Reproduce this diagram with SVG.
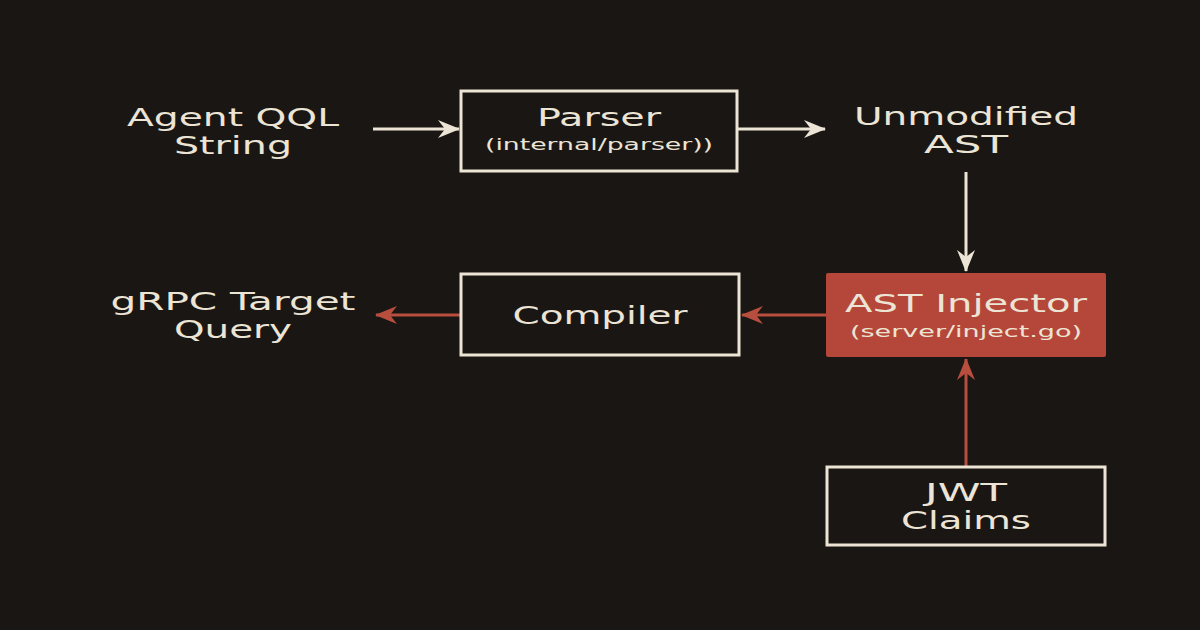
<svg xmlns="http://www.w3.org/2000/svg" width="1200" height="630" viewBox="0 0 1200 630">
<style>
.t{font-family:"DejaVu Sans","Liberation Sans",Arial,sans-serif;fill:#ece4d4;text-anchor:middle}
.big{font-size:24px}
.sm{font-size:16px}
.box{fill:none;stroke:#ece4d4;stroke-width:3}
.lc{stroke:#ece4d4;stroke-width:3;fill:none}
.lr{stroke:#b84e3e;stroke-width:3;fill:none}
</style>
<defs>
<marker id="ac" markerWidth="22" markerHeight="18" refX="21" refY="9" orient="auto" markerUnits="userSpaceOnUse" viewBox="0 0 22 18"><path d="M0,0 L22,9 L0,18 L7,9 Z" fill="#ece4d4"/></marker>
<marker id="ar" markerWidth="22" markerHeight="18" refX="21" refY="9" orient="auto" markerUnits="userSpaceOnUse" viewBox="0 0 22 18"><path d="M0,0 L22,9 L0,18 L7,9 Z" fill="#b84e3e"/></marker>
</defs>
<rect width="1200" height="630" fill="#1a1614"/>
<g id="connectors">
<line class="lc" x1="373" y1="129" x2="459" y2="129" marker-end="url(#ac)"/>
<line class="lc" x1="738" y1="129" x2="825" y2="129" marker-end="url(#ac)"/>
<line class="lc" x1="966" y1="172" x2="966" y2="271" marker-end="url(#ac)"/>
<line class="lr" x1="826" y1="315" x2="742" y2="315" marker-end="url(#ar)"/>
<line class="lr" x1="461" y1="315" x2="376" y2="315" marker-end="url(#ar)"/>
<line class="lr" x1="966" y1="466" x2="966" y2="359" marker-end="url(#ar)"/>
</g>
<g id="agent">
<text class="t big" x="233" y="126" textLength="212" lengthAdjust="spacingAndGlyphs">Agent QQL</text>
<text class="t big" x="233" y="154" textLength="118" lengthAdjust="spacingAndGlyphs">String</text>
</g>
<g id="parser">
<rect class="box" x="461" y="91" width="276" height="80"/>
<text class="t big" x="599" y="126" textLength="124" lengthAdjust="spacingAndGlyphs">Parser</text>
<text class="t sm" x="599" y="150" textLength="228" lengthAdjust="spacingAndGlyphs">(internal/parser))</text>
</g>
<g id="ast">
<text class="t big" x="966" y="125" textLength="224" lengthAdjust="spacingAndGlyphs">Unmodified</text>
<text class="t big" x="966" y="153" textLength="84" lengthAdjust="spacingAndGlyphs">AST</text>
</g>
<g id="injector">
<rect x="826" y="273" width="280" height="84" fill="#b5473a" rx="2"/>
<text class="t big" x="966" y="312" textLength="242" lengthAdjust="spacingAndGlyphs">AST Injector</text>
<text class="t sm" x="966" y="337" textLength="232" lengthAdjust="spacingAndGlyphs">(server/inject.go)</text>
</g>
<g id="compiler">
<rect class="box" x="461" y="274" width="278" height="81"/>
<text class="t big" x="600" y="324" textLength="175" lengthAdjust="spacingAndGlyphs">Compiler</text>
</g>
<g id="grpc">
<text class="t big" x="233" y="310" textLength="245" lengthAdjust="spacingAndGlyphs">gRPC Target</text>
<text class="t big" x="233" y="338" textLength="118" lengthAdjust="spacingAndGlyphs">Query</text>
</g>
<g id="jwt">
<rect class="box" x="827" y="467" width="278" height="78"/>
<text class="t big" x="966" y="501" textLength="82" lengthAdjust="spacingAndGlyphs">JWT</text>
<text class="t big" x="966" y="529" textLength="130" lengthAdjust="spacingAndGlyphs">Claims</text>
</g>
</svg>
